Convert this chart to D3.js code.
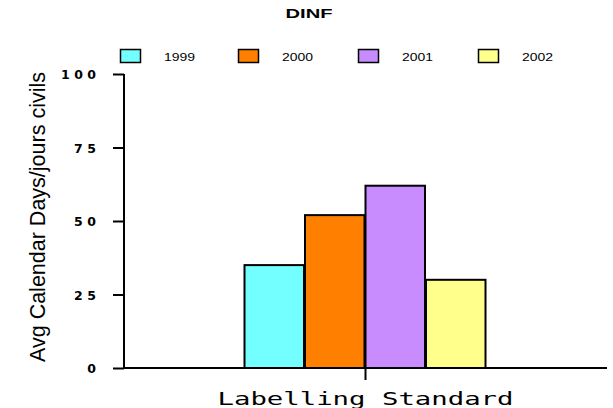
<!DOCTYPE html>
<html><head><meta charset="utf-8">
<script src="https://cdn.jsdelivr.net/npm/d3@7"></script>
<style>body{margin:0;background:#fff;}svg{display:block;}</style>
</head><body>
<svg id="c" width="613" height="408"></svg>
<script>
const title = "DINF";
const categories = ["Labelling Standard"];
const seriesNames = ["1999", "2000", "2001", "2002"];
const seriesValues = [35, 52, 62, 30];
const colors = ["#73ffff", "#ff8000", "#c88cff", "#ffff8c"];
const yTicks = [0, 25, 50, 75, 100];
const yLabel = "Avg Calendar Days/jours civils";

(function () {
const svg = d3.select("#c");
const mLeft = 124, mRight = 607, mTop = 74, mBottom = 368;
const y = d3.scaleLinear().domain([0, 100]).range([mBottom, mTop]);
const x0 = d3.scaleBand().domain(categories).range([mLeft, mRight]).paddingInner(0).paddingOuter(0);
const x1 = d3.scaleBand().domain(seriesNames).range([x0(categories[0]) + 120, x0(categories[0]) + 362]).padding(0);

svg.append("text").attr("x", 309).attr("y", 18).attr("text-anchor", "middle")
  .attr("font-family", "Liberation Sans, Arial").attr("font-weight", "bold").attr("font-size", 12)
  .attr("textLength", 47).attr("lengthAdjust", "spacingAndGlyphs").text(title);

// legend
const legX = [120, 238, 358, 478];
seriesNames.forEach((s, i) => {
  svg.append("rect").attr("x", legX[i] + 0.5).attr("y", 49.5).attr("width", 20).attr("height", 13)
    .attr("fill", colors[i]).attr("stroke", "#000").attr("stroke-width", 1.5);
  svg.append("text").attr("x", legX[i] + 44).attr("y", 61).attr("font-family", "Liberation Sans, Arial")
    .attr("font-size", 11).attr("textLength", 31).attr("lengthAdjust", "spacingAndGlyphs").text(s);
});

// bars
const g = svg.append("g");
g.selectAll("rect.bar").data(seriesValues).join("rect").attr("class", "bar")
  .attr("x", (d, i) => x1(seriesNames[i]) + 0.5)
  .attr("y", d => y(d))
  .attr("width", x1.bandwidth() - 1)
  .attr("height", d => mBottom - y(d))
  .attr("fill", (d, i) => colors[i]).attr("stroke", "#000").attr("stroke-width", 2);

// y axis
const yAxis = d3.axisLeft(y).tickValues(yTicks).tickSize(11).tickFormat(d3.format("d"));
const ya = svg.append("g").attr("transform", `translate(${mLeft},0)`).call(yAxis);
ya.select(".domain").attr("stroke", "#000").attr("stroke-width", 2).attr("d", `M0,${mTop}V${mBottom}`);
ya.selectAll(".tick line").attr("stroke", "#000").attr("stroke-width", 2);
ya.selectAll(".tick text").attr("x", -28).attr("dy", "0.36em").attr("font-family", "DejaVu Sans, sans-serif")
  .attr("font-weight", "bold").attr("font-size", 12.5).attr("fill", "#000")
  .attr("textLength", d => String(d).length * 13 - 4).attr("lengthAdjust", "spacing");

// x axis
const xAxis = d3.axisBottom(x0).tickSize(12).tickFormat("");
const xa = svg.append("g").attr("transform", `translate(0,${mBottom})`).call(xAxis);
xa.select(".domain").attr("stroke", "#000").attr("stroke-width", 2).attr("d", `M${mLeft},0H${mRight}`);
xa.selectAll(".tick line").attr("stroke", "#000").attr("stroke-width", 2);
xa.selectAll(".tick").append("text").attr("y", 37).attr("text-anchor", "middle")
  .attr("font-family", "DejaVu Sans Mono, monospace").attr("font-size", 18).attr("fill", "#000")
  .attr("textLength", 296).attr("lengthAdjust", "spacingAndGlyphs").text(d => d);

// y label
svg.append("text").attr("transform", `translate(45,${(72 + 362) / 2}) rotate(-90)`).attr("text-anchor", "middle")
  .attr("font-family", "Liberation Sans Narrow, Liberation Sans, Arial").attr("font-size", 22)
  .attr("textLength", 290).attr("lengthAdjust", "spacingAndGlyphs").text(yLabel);
})();
</script>
</body></html>
